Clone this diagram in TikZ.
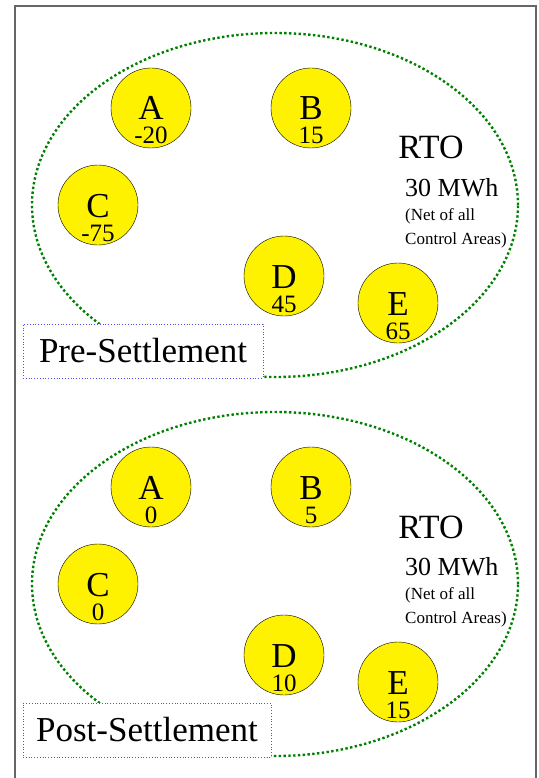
\documentclass[tikz,border=0pt]{standalone}
\usepackage{fontspec}
\setmainfont{Liberation Serif}

\begin{document}
\begin{tikzpicture}[x=1pt,y=-1pt,
  area/.style={circle,draw=black,fill=yellow,minimum size=80pt,inner sep=0pt},
  letter/.style={anchor=base,inner sep=0pt,font=\fontsize{35}{38}\selectfont},
  value/.style={anchor=base,inner sep=0pt,font=\fontsize{25}{28}\selectfont},
  rto/.style={draw=green!50!black,line width=2.4pt,dash pattern=on 2.4pt off 2.4pt},
  tag/.style={draw=blue!70,line width=0.8pt,dotted,fill=white,minimum height=54pt,
    inner sep=0pt,font=\fontsize{35}{38}\selectfont}]
\useasboundingbox (0,0) rectangle (538,778);
\draw[black!60,line width=1.2pt] (15,778) -- (15,6) -- (536,6) -- (536,778);
% RTO boundary and totals
\foreach \p/\dy in {1/0,2/379} {
  \draw[rto] (275,205+\dy) ellipse [x radius=243pt, y radius=172pt];
  \node[anchor=base,inner sep=0pt,font=\fontsize{34}{37}\selectfont] (rto\p) at (431,159+\dy) {RTO};
  \node[anchor=base west,inner sep=0pt,font=\fontsize{26}{30}\selectfont] (mwh\p) at (405,196+\dy) {30 MWh};
  \node[anchor=base west,inner sep=0pt,font=\fontsize{17}{20}\selectfont] (net\p) at (405,220+\dy) {(Net of all};
  \node[anchor=base west,inner sep=0pt,font=\fontsize{17}{20}\selectfont] (ctl\p) at (405,244+\dy) {Control Areas)};
}
% control areas
\foreach \n/\x/\y/\v/\p in {A/151/108/-20/1,B/311/108/15/1,C/98/205/-75/1,D/284/276/45/1,E/398/303/65/1,
                            A/151/487/0/2,B/311/487/5/2,C/98/584/0/2,D/284/655/10/2,E/398/682/15/2} {
  \node[area] (\n\p) at (\x,\y) {};
  \node[letter] (\n\p l) at (\x,\y+12) {\n};
  \node[value] (\n\p v) at (\x,\y+36) {\v};
}
\node[tag,minimum width=240pt] (pre) at (143,351) {Pre-Settlement};
\node[tag,minimum width=248pt] (post) at (147,730) {Post-Settlement};
\end{tikzpicture}
\end{document}
